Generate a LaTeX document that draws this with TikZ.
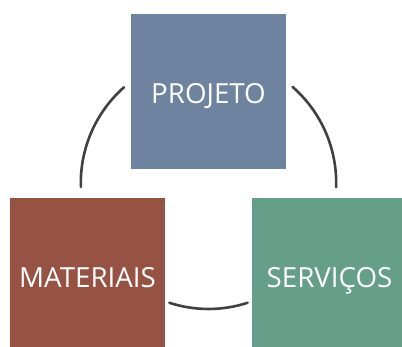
\documentclass[tikz,border=0pt]{standalone}
\usepackage{fontspec}
\setmainfont{Open Sans}
\definecolor{projblue}{RGB}{110,131,160}
\definecolor{matbrown}{RGB}{150,83,68}
\definecolor{servgreen}{RGB}{101,159,138}
\definecolor{arcgray}{RGB}{64,64,64}
\begin{document}
\begin{tikzpicture}[x=1pt,y=1pt,
  boxstyle/.style={rectangle,minimum width=155pt,minimum height=155pt,inner sep=0pt,text=white,text height=24pt,text depth=0pt,font=\fontsize{27.7}{30}\selectfont},
  arcstyle/.style={draw=arcgray,line width=2.6pt,line cap=round}]
\useasboundingbox (0,0) rectangle (402,347);
\begin{scope}
\clip (0,0) rectangle (402,347);
\node[boxstyle,fill=projblue] (proj) at (208.5,255.5) {PROJETO};
\node[boxstyle,fill=matbrown] (mat) at (87.5,71.5) {MATERIAIS};
\node[boxstyle,fill=servgreen] (serv) at (329.5,71.5) {SERVIÇOS};
\end{scope}
\coordinate (ctr) at (208.5,164);
\draw[arcstyle] (ctr) ++(131.4:127.7) coordinate (a1) arc[start angle=131.4,end angle=181.8,radius=127.7];
\draw[arcstyle] (ctr) ++(48.8:127.7) coordinate (a2) arc[start angle=48.8,end angle=-1.9,radius=127.7];
\draw[arcstyle] (ctr) ++(251.9:126) coordinate (a3) arc[start angle=251.9,end angle=288.1,radius=126];
\end{tikzpicture}
\end{document}
